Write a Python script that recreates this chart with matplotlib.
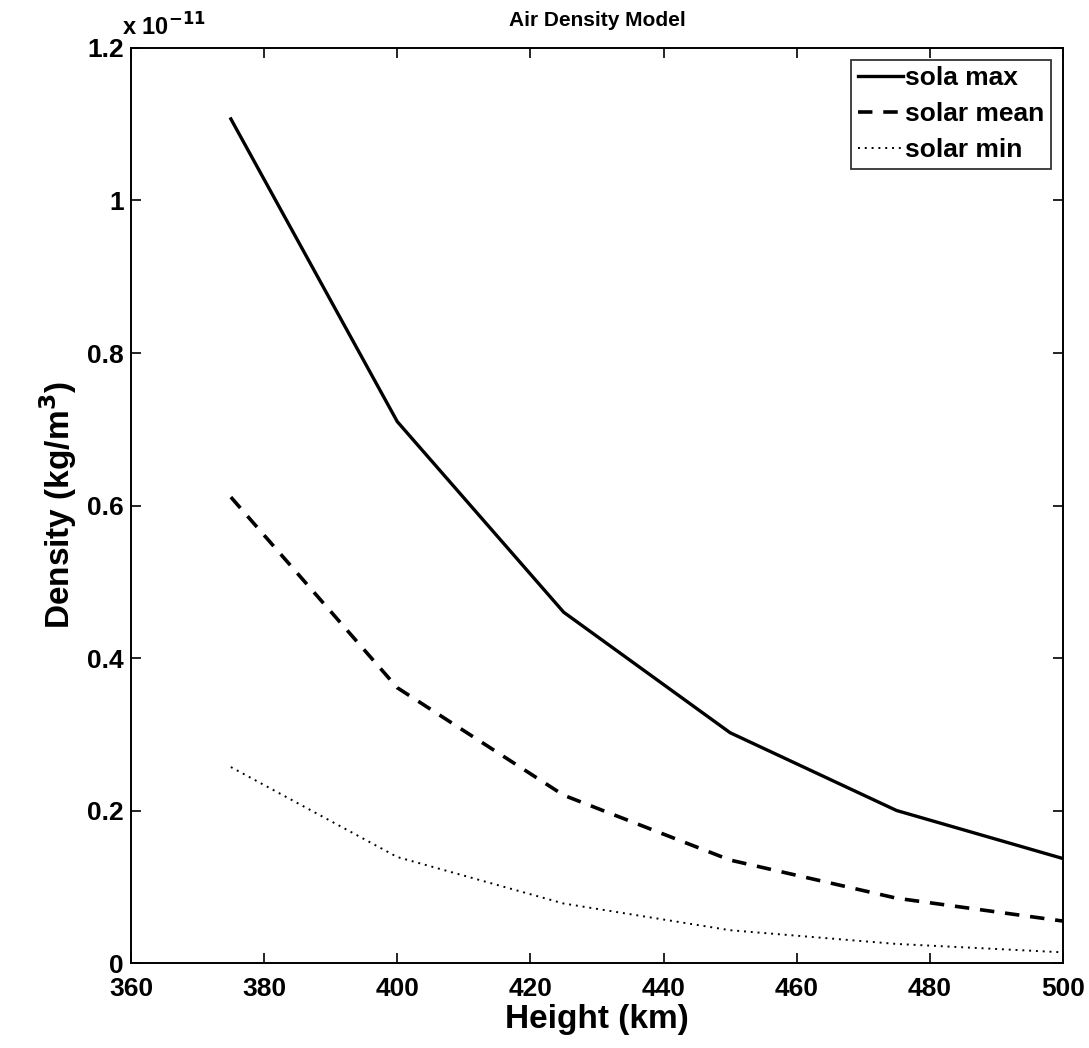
import matplotlib
matplotlib.use("Agg")
import matplotlib.pyplot as plt
from matplotlib.ticker import FuncFormatter

height_km = [375, 400, 425, 450, 475, 500]
solar_max = [1.107, 0.710, 0.460, 0.302, 0.200, 0.137]
solar_mean = [0.611, 0.361, 0.220, 0.135, 0.085, 0.055]
solar_min = [0.257, 0.139, 0.078, 0.043, 0.025, 0.014]
scale = 1e-11

plt.rcParams['font.family'] = ['Liberation Sans', 'DejaVu Sans']
plt.rcParams['font.weight'] = 'bold'

fig = plt.figure(figsize=(10.89, 10.48), dpi=100)
ax = fig.add_axes([0.1203, 0.0811, 0.8558, 0.8731])

ax.plot(height_km, [v * scale for v in solar_max], color='black', lw=2.4, ls='-', label='sola max')
ax.plot(height_km, [v * scale for v in solar_mean], color='black', lw=2.6, ls=(0, (4, 3)), label='solar mean')
ax.plot(height_km, [v * scale for v in solar_min], color='black', lw=1.4, ls=(0, (1, 2.5)), label='solar min')

ax.set_xlim(360, 500)
ax.set_ylim(0, 1.2e-11)
ax.set_xticks(range(360, 501, 20))
ax.set_yticks([i * 0.2e-11 for i in range(7)])
ax.yaxis.set_major_formatter(FuncFormatter(lambda v, p: ('%g' % round(v / scale, 3))))
ax.tick_params(direction='in', top=True, right=True, length=7, width=1.2, labelsize=19)
ax.tick_params(axis='x', pad=10)
ax.tick_params(axis='y', pad=5)
for lab in ax.get_xticklabels() + ax.get_yticklabels():
    lab.set_fontweight('bold')
for s in ax.spines.values():
    s.set_linewidth(1.4)

ax.set_xlabel('Height (km)', fontsize=24, fontweight='bold', labelpad=2)
ax.set_ylabel('Density (kg/m$^\\mathbf{3}$)', fontsize=24, fontweight='bold', labelpad=6)
ax.set_title('Air Density Model', fontsize=15, fontweight='bold', pad=16)
ax.text(-0.01, 1.008, 'x 10$^{\\mathbf{-11}}$', transform=ax.transAxes, fontsize=17, fontweight='bold', ha='left', va='bottom')

leg = ax.legend(loc='upper right', fontsize=19, frameon=True, fancybox=False, edgecolor='black',
                handlelength=1.7, handletextpad=0.1, borderaxespad=0.45, borderpad=0.25, labelspacing=0.45)
leg.get_frame().set_linewidth(1.3)
for t in leg.get_texts():
    t.set_fontweight('bold')

fig.savefig('out.png', dpi=100)
